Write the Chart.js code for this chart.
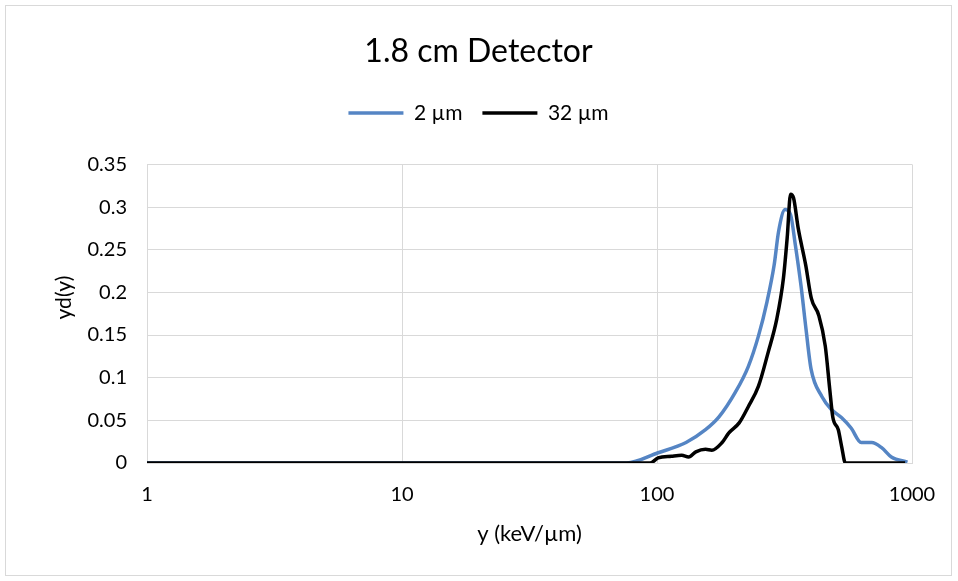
<!DOCTYPE html>
<html>
<head>
<meta charset="utf-8">
<script src="https://cdn.jsdelivr.net/npm/chart.js@4"></script>
<style>
  html, body { margin: 0; padding: 0; background: #fff; }
  #wrap { width: 958px; height: 581px; }
</style>
</head>
<body>
<div id="wrap"><canvas id="detector" width="958" height="581"></canvas></div>
<script>
// y (keV/um) positions and yd(y) values
const x2um = [1, 10, 50, 76, 101, 130, 155, 175, 203, 228, 250, 270, 288, 300, 318, 334, 349, 367, 384, 402, 443, 482, 530, 577, 632, 695, 760, 830, 960];
const y2um = [0, 0, 0, 0, 0.012, 0.024, 0.039, 0.054, 0.083, 0.113, 0.149, 0.189, 0.232, 0.272, 0.297, 0.291, 0.255, 0.208, 0.157, 0.110, 0.078, 0.063, 0.053, 0.041, 0.024, 0.024, 0.018, 0.007, 0.001];

const x32um = [1, 10, 50, 94, 101, 114, 125, 133, 142, 155, 164, 180, 191, 210, 228, 250, 273, 295, 313, 324, 334, 343, 358, 383, 403, 431, 457, 476, 489, 514, 530, 548, 600, 940];
const y32um = [0, 0, 0, 0, 0.006, 0.008, 0.009, 0.007, 0.013, 0.016, 0.015, 0.024, 0.035, 0.047, 0.066, 0.090, 0.130, 0.169, 0.216, 0.264, 0.315, 0.311, 0.275, 0.232, 0.193, 0.173, 0.137, 0.086, 0.054, 0.039, 0.019, 0, 0, 0];

const xTicks = [1, 10, 100, 1000];

const FONT = 'Lato, "Liberation Sans", sans-serif';
const GRID = '#d9d9d9';

const toPoints = (xs, ys) => xs.map((x, i) => ({ x: x, y: ys[i] }));

const frame = {
    id: 'frame',
    beforeDraw(chart) {
        const c = chart.ctx;
        c.save();
        c.fillStyle = '#fff';
        c.fillRect(0, 0, chart.width, chart.height);
        c.strokeStyle = GRID;
        c.lineWidth = 1;
        c.strokeRect(5.5, 5.5, 946, 570);
        c.restore();
    }
};

const ctx = document.getElementById('detector').getContext('2d');
new Chart(ctx, {
    type: 'line',
    data: {
        datasets: [{
            label: '2 µm',
            data: toPoints(x2um, y2um),
            borderColor: '#5585c4',
            backgroundColor: '#5585c4',
            borderWidth: 3.5,
            pointRadius: 0,
            fill: false,
            order: 1,
            cubicInterpolationMode: 'monotone'
        }, {
            label: '32 µm',
            data: toPoints(x32um, y32um),
            borderColor: '#000000',
            backgroundColor: '#000000',
            borderWidth: 3.5,
            pointRadius: 0,
            fill: false,
            order: 0,   // black drawn on top, as in the original
            cubicInterpolationMode: 'monotone'
        }]
    },
    options: {
        responsive: false,
        animation: false,
        layout: { padding: { left: 45, right: 46, top: 6, bottom: 30 } },
        scales: {
            x: {
                type: 'logarithmic',
                min: 1,
                max: 1000,
                afterBuildTicks: axis => { axis.ticks = xTicks.map(v => ({ value: v })); },
                afterFit: axis => { axis.height = 88; },
                grid: { color: GRID, drawTicks: false },
                border: { color: GRID },
                ticks: {
                    padding: 20,
                    color: '#000',
                    font: { family: FONT, size: 20 },
                    callback: v => String(v)
                },
                title: {
                    display: true,
                    text: 'y (keV/µm)',
                    color: '#000',
                    font: { family: FONT, size: 22 },
                    padding: { top: 0, bottom: 4 }
                }
            },
            y: {
                min: 0,
                max: 0.35,
                afterFit: axis => { axis.width = 102; },
                grid: { color: GRID, drawTicks: false },
                border: { color: GRID },
                ticks: {
                    stepSize: 0.05,
                    padding: 20,
                    color: '#000',
                    font: { family: FONT, size: 20 },
                    callback: v => String(+v.toFixed(2))
                },
                title: {
                    display: true,
                    text: '      yd(y)',
                    color: '#000',
                    font: { family: FONT, size: 21 },
                    padding: { top: 7, bottom: 0 }
                }
            }
        },
        plugins: {
            title: {
                display: true,
                text: '1.8 cm Detector',
                color: '#000',
                font: { family: FONT, size: 32, weight: 'normal' },
                padding: { top: 26, bottom: 12 }
            },
            subtitle: {
                // empty spacer between the legend and the plot
                display: true,
                text: '',
                weight: 500,
                font: { size: 10 },
                padding: { top: 0, bottom: 19 }
            },
            legend: {
                display: true,
                labels: {
                    usePointStyle: true,
                    pointStyle: 'line',
                    pointStyleWidth: 55,
                    color: '#000',
                    font: { family: FONT, size: 21 },
                    padding: 20,
                    sort: (a, b) => a.datasetIndex - b.datasetIndex
                }
            },
            tooltip: { enabled: false }
        }
    },
    plugins: [frame]
});
</script>
</body>
</html>
